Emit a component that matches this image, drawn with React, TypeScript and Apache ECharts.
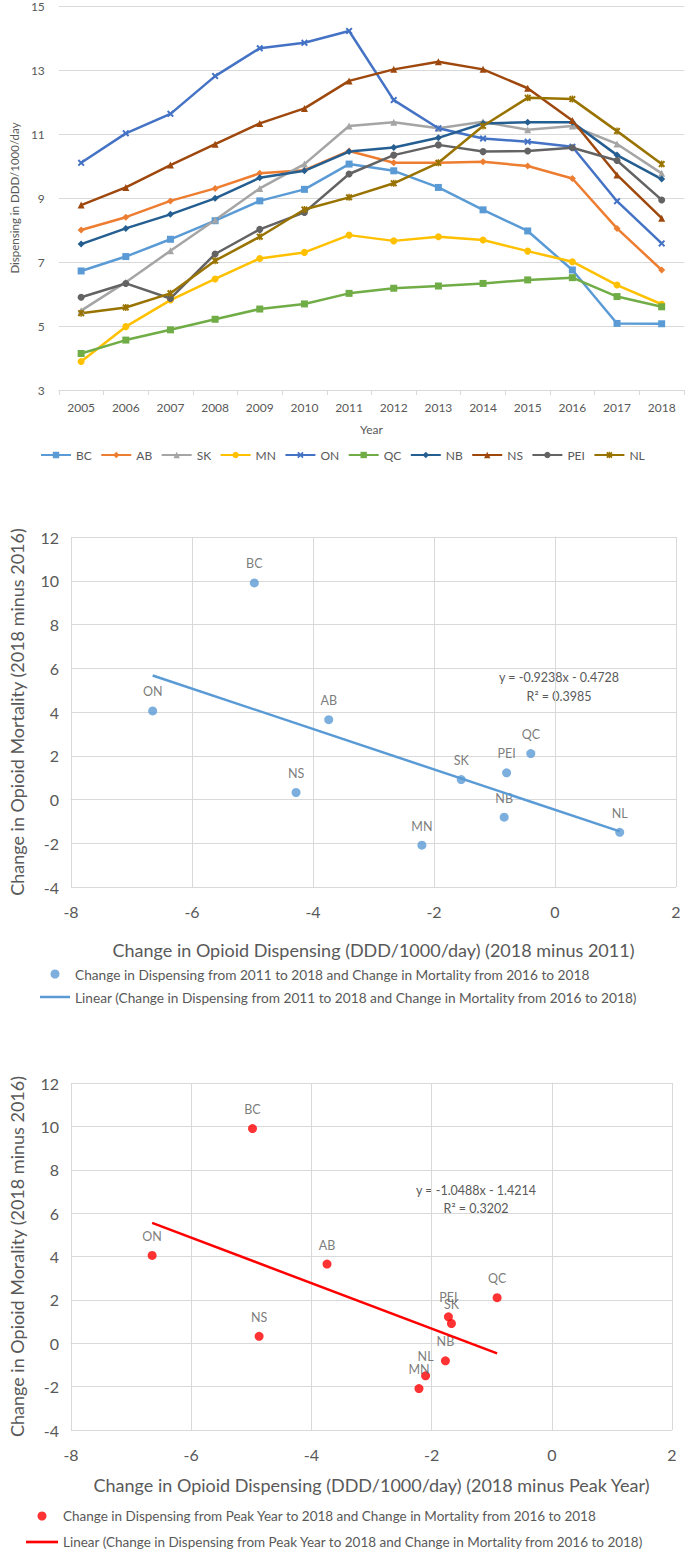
import React, { useEffect, useRef } from "react";
import * as echarts from "echarts";

const years = ["2005", "2006", "2007", "2008", "2009", "2010", "2011", "2012", "2013", "2014", "2015", "2016", "2017", "2018"];

const BC = [6.72, 7.17, 7.71, 8.29, 8.91, 9.27, 10.06, 9.85, 9.33, 8.63, 7.97, 6.75, 5.08, 5.07];
const AB = [8.0, 8.4, 8.91, 9.3, 9.77, 9.87, 10.47, 10.1, 10.1, 10.13, 10.0, 9.61, 8.05, 6.75];
const SK = [5.48, 6.37, 7.35, 8.31, 9.3, 10.06, 11.25, 11.37, 11.18, 11.38, 11.13, 11.25, 10.69, 9.77];
const MN = [3.89, 4.98, 5.81, 6.47, 7.11, 7.3, 7.84, 7.66, 7.79, 7.69, 7.34, 7.01, 6.28, 5.68];
const ON = [10.1, 11.02, 11.63, 12.81, 13.68, 13.85, 14.22, 12.06, 11.18, 10.86, 10.76, 10.6, 8.9, 7.58];
const QC = [4.14, 4.56, 4.88, 5.21, 5.53, 5.69, 6.02, 6.18, 6.25, 6.33, 6.44, 6.51, 5.92, 5.6];
const NB = [7.56, 8.05, 8.49, 8.99, 9.63, 9.85, 10.45, 10.58, 10.88, 11.33, 11.37, 11.37, 10.34, 9.59];
const NS = [8.78, 9.33, 10.03, 10.68, 11.33, 11.8, 12.66, 13.02, 13.26, 13.02, 12.43, 11.42, 9.72, 8.37];
const PEI = [5.9, 6.33, 5.86, 7.25, 8.02, 8.55, 9.75, 10.34, 10.66, 10.45, 10.47, 10.57, 10.17, 8.94];
const NL = [5.4, 5.58, 6.02, 7.04, 7.79, 8.64, 9.02, 9.46, 10.1, 11.25, 12.13, 12.09, 11.09, 10.06];

const yTicksTop = [3, 15, 2];

const provinces = ["BC", "ON", "AB", "NS", "SK", "PEI", "QC", "NB", "MN", "NL"];
const mortalityChange = [9.9, 4.05, 3.65, 0.32, 0.91, 1.22, 2.1, -0.81, -2.09, -1.5];
const dispChange2011 = [-4.97, -6.65, -3.74, -4.28, -1.55, -0.8, -0.4, -0.84, -2.2, 1.07];
const dispChangePeak = [-4.98, -6.65, -3.74, -4.87, -1.67, -1.72, -0.91, -1.77, -2.21, -2.1];
const trend2011 = [[-6.65, 5.67], [1.07, -1.46]];
const trendPeak = [[-6.65, 5.55], [-0.91, -0.47]];

const FONT = "Lato";
const GRAY = "#595959";
const GRID = "#d9d9d9";

const xPath = "path://M2,0L5,3L8,0L10,2L7,5L10,8L8,10L5,7L2,10L0,8L3,5L0,2Z";
const starPath = "path://M2,0L4,2L4,0L6,0L6,2L8,0L10,2L7,5L10,8L8,10L6,8L6,10L4,10L4,8L2,10L0,8L3,5L0,2Z";
const lineIcon = "path://M0,0L30,0L30,2.5L0,2.5Z";

const lineSeriesDefs = [
  { name: "BC", data: BC, color: "#5B9BD5", symbol: "rect" },
  { name: "AB", data: AB, color: "#ED7D31", symbol: "diamond" },
  { name: "SK", data: SK, color: "#A5A5A5", symbol: "triangle" },
  { name: "MN", data: MN, color: "#FFC000", symbol: "circle" },
  { name: "ON", data: ON, color: "#4472C4", symbol: xPath },
  { name: "QC", data: QC, color: "#70AD47", symbol: "rect" },
  { name: "NB", data: NB, color: "#255E91", symbol: "diamond" },
  { name: "NS", data: NS, color: "#9E480E", symbol: "triangle" },
  { name: "PEI", data: PEI, color: "#636363", symbol: "circle" },
  { name: "NL", data: NL, color: "#997300", symbol: starPath },
];

const sc1Name = "Change in Dispensing from 2011 to 2018 and Change in Mortality from 2016 to 2018";
const tr1Name = "Linear (Change in Dispensing from 2011 to 2018 and Change in Mortality from 2016 to 2018)";
const sc2Name = "Change in Dispensing from Peak Year to 2018 and Change in Mortality from 2016 to 2018";
const tr2Name = "Linear (Change in Dispensing from Peak Year to 2018 and Change in Mortality from 2016 to 2018)";

function scatterAxes(gridIndex: number, xName: string, yName: string, xGap: number) {
  const common = {
    gridIndex,
    type: "value" as const,
    axisLine: { show: true, lineStyle: { color: GRID } },
    axisTick: { show: false },
    splitLine: { show: true, lineStyle: { color: GRID, width: 1 } },
    axisLabel: { color: GRAY, fontSize: 16, fontFamily: FONT },
    nameLocation: "middle" as const,
    nameTextStyle: { color: GRAY, fontSize: 18, fontFamily: FONT },
  };
  return {
    x: { ...common, min: -8, max: 2, interval: 2, name: xName, nameGap: xGap, axisLabel: { ...common.axisLabel, margin: 16 } },
    y: { ...common, min: -4, max: 12, interval: 2, name: yName, nameGap: 45, axisLabel: { ...common.axisLabel, margin: 12 } },
  };
}

export default function App() {
  const ref = useRef<HTMLDivElement>(null);
  useEffect(() => {
    if (!ref.current) return;
    const chart = echarts.init(ref.current, undefined, { renderer: "svg" });
    const a1 = scatterAxes(1, "Change in Opioid Dispensing (DDD/1000/day) (2018 minus 2011)", "Change in Opioid Mortality (2018 minus 2016)", 54);
    const a2 = scatterAxes(2, "Change in Opioid Dispensing (DDD/1000/day) (2018 minus Peak Year)", "Change in Opioid Morality (2018 minus 2016)", 46);

    const scatterLabel = {
      show: true,
      position: "top" as const,
      distance: 8,
      color: GRAY,
      fontSize: 12.5,
      fontFamily: FONT,
      formatter: (p: any) => p.data[2],
    };

    const option: any = {
      animation: false,
      textStyle: { fontFamily: FONT },
      grid: [
        { left: 47, top: 6, width: 637, height: 384 },
        { left: 68, top: 537, width: 608, height: 350 },
        { left: 67, top: 1083, width: 605, height: 347 },
      ],
      xAxis: [
        {
          gridIndex: 0,
          type: "category",
          data: years,
          boundaryGap: true,
          axisLine: { lineStyle: { color: GRID } },
          axisTick: { show: true, length: 5, lineStyle: { color: GRID } },
          axisLabel: { color: GRAY, fontSize: 12, fontFamily: FONT, margin: 11 },
          name: "Year",
          nameLocation: "middle",
          nameGap: 33,
          nameTextStyle: { color: GRAY, fontSize: 12, fontFamily: FONT },
        },
        a1.x,
        a2.x,
      ],
      yAxis: [
        {
          gridIndex: 0,
          type: "value",
          min: yTicksTop[0],
          max: yTicksTop[1],
          interval: yTicksTop[2],
          axisLine: { show: false },
          axisTick: { show: false },
          splitLine: { lineStyle: { color: GRID } },
          axisLabel: { color: GRAY, fontSize: 12, fontFamily: FONT, margin: 14 },
          name: "Dispensing in DDD/1000/day",
          nameLocation: "middle",
          nameGap: 33,
          nameTextStyle: { color: GRAY, fontSize: 11.5, fontFamily: FONT },
        },
        a1.y,
        a2.y,
      ],
      legend: [
        {
          data: lineSeriesDefs.map((d) => d.name),
          left: 40,
          top: 449,
          width: 645,
          padding: 0,
          itemWidth: 30,
          itemHeight: 8,
          itemGap: 8.5,
          textStyle: { color: GRAY, fontSize: 12, fontFamily: FONT },
        },
        {
          data: [{ name: sc1Name }, { name: tr1Name, icon: lineIcon }],
          orient: "vertical",
          left: 40,
          top: 967,
          padding: 0,
          itemWidth: 30,
          itemHeight: 9,
          itemGap: 9,
          textStyle: { color: GRAY, fontSize: 13.7, fontFamily: FONT },
        },
        {
          data: [{ name: sc2Name }, { name: tr2Name, icon: lineIcon }],
          orient: "vertical",
          left: 26,
          top: 1509,
          height: 44,
          padding: 0,
          itemWidth: 32,
          itemHeight: 9,
          itemGap: 12,
          textStyle: { color: GRAY, fontSize: 13.5, fontFamily: FONT },
        },
      ],
      graphic: [
        {
          type: "text",
          x: 559,
          y: 687,
          style: {
            text: "y = -0.9238x - 0.4728\nR² = 0.3985",
            align: "center",
            verticalAlign: "middle",
            fill: GRAY,
            fontSize: 12.5,
            lineHeight: 19,
            fontFamily: FONT,
          },
        },
        {
          type: "text",
          x: 476,
          y: 1199,
          style: {
            text: "y = -1.0488x - 1.4214\nR² = 0.3202",
            align: "center",
            verticalAlign: "middle",
            fill: GRAY,
            fontSize: 12.5,
            lineHeight: 18,
            fontFamily: FONT,
          },
        },
      ],
      series: [
        ...lineSeriesDefs.map((d) => ({
          name: d.name,
          type: "line",
          xAxisIndex: 0,
          yAxisIndex: 0,
          data: d.data,
          symbol: d.symbol,
          symbolSize: 7,
          showSymbol: true,
          lineStyle: { color: d.color, width: 2.5 },
          itemStyle: { color: d.color },
          z: 2,
        })),
        {
          name: sc1Name,
          type: "scatter",
          xAxisIndex: 1,
          yAxisIndex: 1,
          symbol: "circle",
          symbolSize: 9,
          itemStyle: { color: "#5B9BD5" },
          label: scatterLabel,
          data: provinces.map((p, i) => [dispChange2011[i], mortalityChange[i], p]),
        },
        {
          name: tr1Name,
          type: "line",
          xAxisIndex: 1,
          yAxisIndex: 1,
          symbol: "none",
          lineStyle: { color: "#5B9BD5", width: 2.5 },
          itemStyle: { color: "#5B9BD5" },
          data: trend2011,
        },
        {
          name: sc2Name,
          type: "scatter",
          xAxisIndex: 2,
          yAxisIndex: 2,
          symbol: "circle",
          symbolSize: 9,
          itemStyle: { color: "#FF0000" },
          label: scatterLabel,
          data: provinces.map((p, i) => [dispChangePeak[i], mortalityChange[i], p]),
        },
        {
          name: tr2Name,
          type: "line",
          xAxisIndex: 2,
          yAxisIndex: 2,
          symbol: "none",
          lineStyle: { color: "#FF0000", width: 2.5 },
          itemStyle: { color: "#FF0000" },
          data: trendPeak,
        },
      ],
    };
    chart.setOption(option);
    return () => chart.dispose();
  }, []);
  return (
    <div
      ref={ref}
      style={{ position: "absolute", left: 0, top: 0, width: 685, height: 1553, background: "#fff" }}
    />
  );
}
